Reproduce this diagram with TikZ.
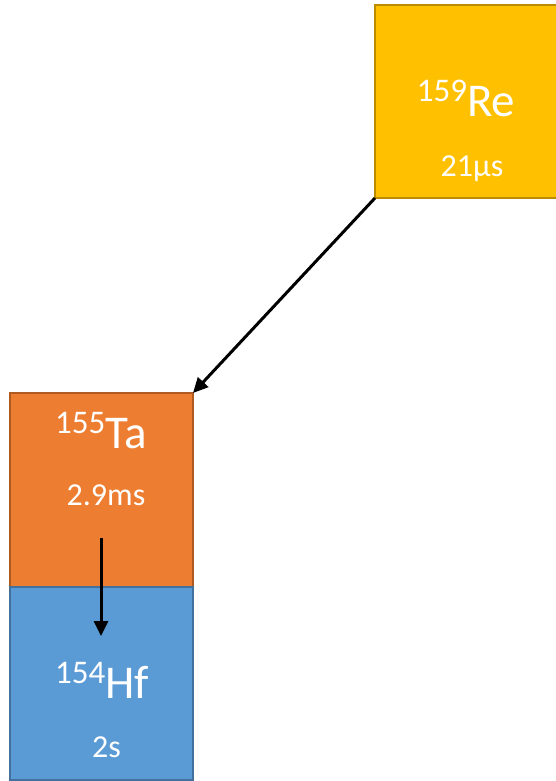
\documentclass[tikz,border=0pt]{standalone}
\usepackage{fontspec}
\setmainfont{Carlito}
\usetikzlibrary{arrows.meta}
\definecolor{reFill}{HTML}{FFC000}
\definecolor{reLine}{HTML}{BC8C00}
\definecolor{taFill}{HTML}{ED7D31}
\definecolor{taLine}{HTML}{AE5A21}
\definecolor{hfFill}{HTML}{5B9BD5}
\definecolor{hfLine}{HTML}{41719C}
\newcommand{\nuc}[2]{{\fontsize{33}{33}\selectfont\raisebox{15pt}{#1}}{\fontsize{47}{47}\selectfont #2}}
\newcommand{\hl}[1]{{\fontsize{32}{32}\selectfont #1}}
\begin{document}
\begin{tikzpicture}[x=1pt,y=-1pt,
  nucbox/.style={draw, line width=1.5pt, anchor=north west, inner sep=0pt, outer sep=0pt},
  lbl/.style={text=white, anchor=base, inner sep=0pt},
  decay/.style={line width=3pt, -{Triangle[length=15pt,width=14pt]}}]
\useasboundingbox (0,0) rectangle (556,781);
\node[nucbox, fill=reFill, draw=reLine, minimum width=184pt, minimum height=193pt] (re) at (375,5) {};
\node[nucbox, fill=taFill, draw=taLine, minimum width=183pt, minimum height=194pt] (ta) at (10,393) {};
\node[nucbox, fill=hfFill, draw=hfLine, minimum width=183pt, minimum height=193pt] (hf) at (10,587) {};
\node[lbl] (reName) at (466,117) {\nuc{159}{Re}};
\node[lbl] (reHl) at (472,176) {\hl{21μs}};
\node[lbl] (taName) at (101,448) {\nuc{155}{Ta}};
\node[lbl] (taHl) at (106,505) {\hl{2.9ms}};
\node[lbl] (hfName) at (102,698) {\nuc{154}{Hf}};
\node[lbl] (hfHl) at (106.5,757) {\hl{2s}};
\coordinate (tStart) at (101,538);
\coordinate (tEnd) at (101,636);
\draw[decay] (re.south west) -- (ta.north east);
\draw[decay] (tStart) -- (tEnd);
\end{tikzpicture}
\end{document}
